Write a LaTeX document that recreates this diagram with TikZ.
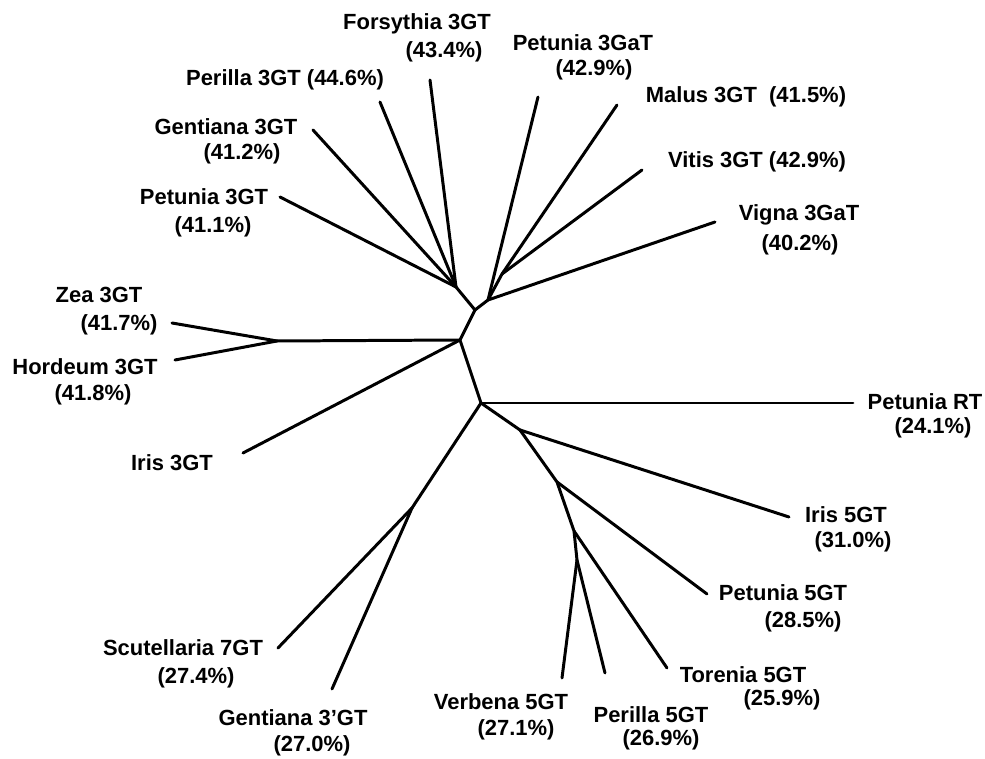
\documentclass[tikz,border=0pt]{standalone}
\usepackage{fontspec}
\setmainfont{Liberation Sans}
\usetikzlibrary{calc}
\tikzset{
  branch/.style={line width=1.7pt, line cap=round, line join=round},
  lbl/.style={font=\fontsize{12.5}{15}\selectfont\bfseries, inner sep=0pt}
}

\begin{document}
\begin{tikzpicture}[x=0.02cm, y=-0.02cm]
			\useasboundingbox (0, 0) rectangle (985, 759);
			%%%%% INNER NODES %%%%%
			\coordinate (nL) at (456, 287);
			\coordinate (nR) at (488, 300);
			\coordinate (nRM) at (502, 274);
			\coordinate (nTop) at (475, 310);
			\coordinate (nMid) at (460, 340);
			\coordinate (nZH) at (277, 341);
			\coordinate (nLow) at (481, 403);
			\coordinate (nSG) at (412, 508);
			\coordinate (nF1) at (520, 430);
			\coordinate (nF2) at (557, 482);
			\coordinate (nF3) at (574, 531);
			\coordinate (nF4) at (577, 560);
			
			%%%%% LEAF ENDS %%%%%
			\coordinate (forsythia) at (430, 80);
			\coordinate (perillaA) at (380, 102);
			\coordinate (gentianaA) at (313, 130);
			\coordinate (petuniaA) at (280, 197);
			\coordinate (petuniaGa) at (538, 97);
			\coordinate (malus) at (617, 105);
			\coordinate (vitis) at (642, 170);
			\coordinate (vigna) at (715, 222);
			\coordinate (zea) at (172, 323);
			\coordinate (hordeum) at (175, 360);
			\coordinate (irisA) at (243, 453);
			\coordinate (petuniaRT) at (853, 403);
			\coordinate (irisB) at (789, 517);
			\coordinate (petuniaB) at (707, 594);
			\coordinate (torenia) at (667, 668);
			\coordinate (perillaB) at (605, 673);
			\coordinate (verbena) at (562, 678);
			\coordinate (scutellaria) at (278, 648);
			\coordinate (gentianaB) at (332, 689);
			
			%%%%% BRANCHES %%%%%
			\draw[branch] (nTop) -- (nMid) -- (nLow);
			\draw[branch] (nTop) -- (nL);
			\draw[branch] (nTop) -- (nR);
			\draw[branch] (nL) -- (forsythia);
			\draw[branch] (nL) -- (perillaA);
			\draw[branch] (nL) -- (gentianaA);
			\draw[branch] (nL) -- (petuniaA);
			\draw[branch] (nR) -- (petuniaGa);
			\draw[branch] (nR) -- (nRM);
			\draw[branch] (nRM) -- (malus);
			\draw[branch] (nRM) -- (vitis);
			\draw[branch] (nR) -- (vigna);
			\draw[branch] (nMid) -- (nZH);
			\draw[branch] (nZH) -- (zea);
			\draw[branch] (nZH) -- (hordeum);
			\draw[branch] (nMid) -- (irisA);
			\draw[branch] (nLow) -- (petuniaRT);
			\draw[branch] (nLow) -- (nSG);
			\draw[branch] (nSG) -- (scutellaria);
			\draw[branch] (nSG) -- (gentianaB);
			\draw[branch] (nLow) -- (nF1) -- (nF2) -- (nF3) -- (nF4);
			\draw[branch] (nF1) -- (irisB);
			\draw[branch] (nF2) -- (petuniaB);
			\draw[branch] (nF3) -- (torenia);
			\draw[branch] (nF4) -- (perillaB);
			\draw[branch] (nF4) -- (verbena);
			
			%%%%% LABELS %%%%%
			\node[lbl] (tForsythia) at (417, 24) {Forsythia 3GT};
			\node[lbl] (pForsythia) at (444, 52) {(43.4\%)};
			\node[lbl] (tPerillaA) at (285, 80) {Perilla 3GT (44.6\%)};
			\node[lbl] (tGentianaA) at (226, 127) {Gentiana 3GT};
			\node[lbl] (pGentianaA) at (242, 154) {(41.2\%)};
			\node[lbl] (tPetuniaA) at (204, 197) {Petunia 3GT};
			\node[lbl] (pPetuniaA) at (213, 227) {(41.1\%)};
			\node[lbl] (tPetuniaGa) at (583, 43) {Petunia 3GaT};
			\node[lbl] (pPetuniaGa) at (594, 70) {(42.9\%)};
			\node[lbl] (tMalus) at (746, 97) {Malus 3GT~~(41.5\%)};
			\node[lbl] (tVitis) at (757, 162) {Vitis 3GT~(42.9\%)};
			\node[lbl] (tVigna) at (799, 215) {Vigna 3GaT};
			\node[lbl] (pVigna) at (800, 245) {(40.2\%)};
			\node[lbl] (tZea) at (99, 295) {Zea 3GT};
			\node[lbl] (pZea) at (119, 325) {(41.7\%)};
			\node[lbl] (tHordeum) at (85, 367) {Hordeum 3GT};
			\node[lbl] (pHordeum) at (93, 395) {(41.8\%)};
			\node[lbl] (tIrisA) at (172, 463) {Iris 3GT};
			\node[lbl] (tPetuniaRT) at (925, 402) {Petunia RT};
			\node[lbl] (pPetuniaRT) at (933, 428) {(24.1\%)};
			\node[lbl] (tIrisB) at (846, 515) {Iris 5GT};
			\node[lbl] (pIrisB) at (853, 542) {(31.0\%)};
			\node[lbl] (tPetuniaB) at (783, 593) {Petunia 5GT};
			\node[lbl] (pPetuniaB) at (803, 622) {(28.5\%)};
			\node[lbl] (tTorenia) at (743, 675) {Torenia 5GT};
			\node[lbl] (pTorenia) at (782, 700) {(25.9\%)};
			\node[lbl] (tPerillaB) at (651, 715) {Perilla 5GT};
			\node[lbl] (pPerillaB) at (661, 740) {(26.9\%)};
			\node[lbl] (tVerbena) at (501, 702) {Verbena 5GT};
			\node[lbl] (pVerbena) at (516, 730) {(27.1\%)};
			\node[lbl] (tScutellaria) at (183, 648) {Scutellaria 7GT};
			\node[lbl] (pScutellaria) at (196, 678) {(27.4\%)};
			\node[lbl] (tGentianaB) at (293, 718) {Gentiana 3'GT};
			\node[lbl] (pGentianaB) at (312, 746) {(27.0\%)};
\end{tikzpicture}
\end{document}
